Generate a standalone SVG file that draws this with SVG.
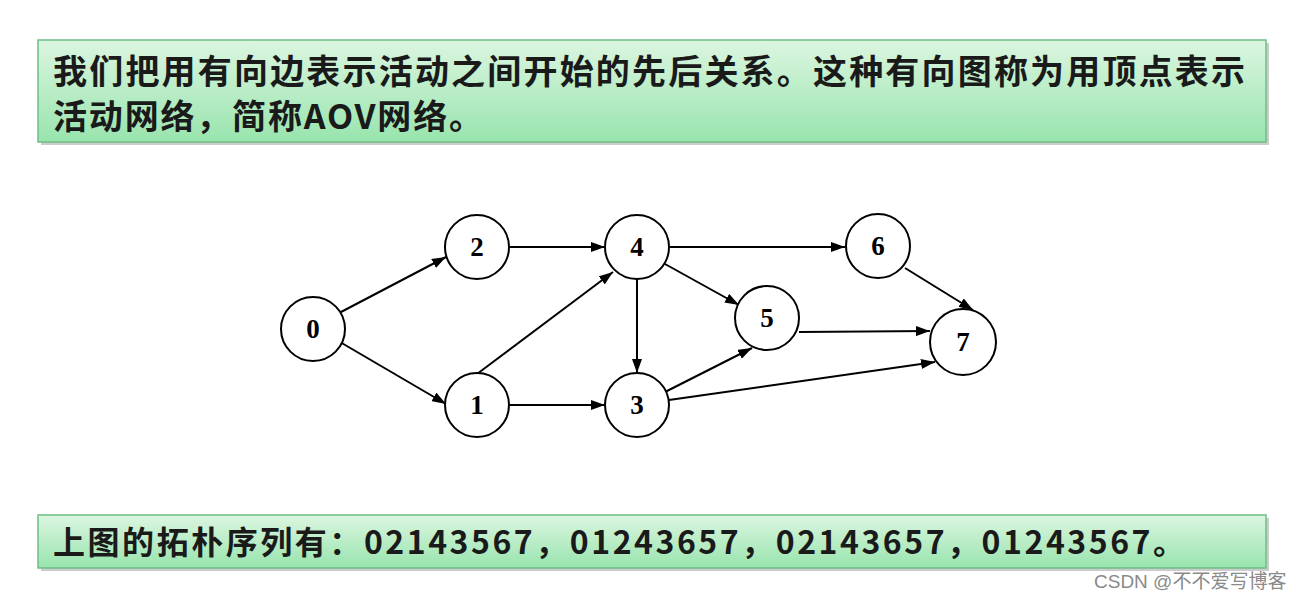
<svg xmlns="http://www.w3.org/2000/svg" width="1300" height="600" viewBox="0 0 1300 600">
<defs>
<linearGradient id="g" x1="0" y1="0" x2="0" y2="1">
<stop offset="0" stop-color="#dcf6e0"/>
<stop offset="1" stop-color="#98e4ae"/>
</linearGradient>
<marker id="a" viewBox="0 0 14 10" refX="14" refY="5" markerWidth="14" markerHeight="10" orient="auto" markerUnits="userSpaceOnUse">
<path d="M0,0 L14,5 L0,10 z" fill="#000"/>
</marker>
</defs>
<style>
.box{fill:url(#g);stroke:#6fbf86;stroke-width:1.5}
.shadow{fill:#9a9a9a;opacity:0.5}
.t{font-family:"Noto Sans CJK SC","Noto Sans",sans-serif;font-weight:bold;fill:#1a1a1a}
.n{fill:#fff;stroke:#000;stroke-width:2}
.nl{font-family:"Liberation Serif",serif;font-weight:bold;font-size:27px;text-anchor:middle;fill:#000}
.e{stroke:#000;stroke-width:2;fill:none;marker-end:url(#a)}
.wm{font-family:"Liberation Sans","Noto Sans CJK SC",sans-serif;font-size:19px;fill:#8a8a8a}
</style>
<rect width="1300" height="600" fill="#fff"/>
<g id="top-box">
<rect class="shadow" x="41" y="43" width="1228" height="102"/>
<rect class="box" x="38" y="40" width="1228" height="102"/>
<text class="t" x="53" y="84" font-size="34" textLength="1192" lengthAdjust="spacing">我们把用有向边表示活动之间开始的先后关系。这种有向图称为用顶点表示</text>
<text class="t" x="53" y="129" font-size="34" textLength="430" lengthAdjust="spacing">活动网络，简称AOV网络。</text>
</g>
<g id="connectors">
<line class="e" x1="341" y1="312" x2="446" y2="257"/>
<line class="e" x1="340" y1="342" x2="446" y2="404"/>
<line class="e" x1="508" y1="247" x2="605" y2="247"/>
<line class="e" x1="508" y1="405" x2="605" y2="405"/>
<line class="e" x1="477" y1="374" x2="613" y2="272"/>
<line class="e" x1="637" y1="279" x2="637" y2="373"/>
<line class="e" x1="668" y1="247" x2="845" y2="247"/>
<line class="e" x1="665" y1="264" x2="739" y2="305"/>
<line class="e" x1="665" y1="392" x2="752" y2="348"/>
<line class="e" x1="669" y1="400" x2="935" y2="362"/>
<line class="e" x1="799" y1="332" x2="930" y2="331"/>
<line class="e" x1="905" y1="268" x2="973" y2="310"/>
</g>
<g id="node-0"><circle class="n" cx="313" cy="329" r="32"/><text class="nl" x="313" y="338">0</text></g>
<g id="node-2"><circle class="n" cx="477" cy="247" r="32"/><text class="nl" x="477" y="256">2</text></g>
<g id="node-4"><circle class="n" cx="637" cy="247" r="32"/><text class="nl" x="637" y="256">4</text></g>
<g id="node-1"><circle class="n" cx="477" cy="405" r="32"/><text class="nl" x="477" y="414">1</text></g>
<g id="node-3"><circle class="n" cx="637" cy="405" r="32"/><text class="nl" x="637" y="414">3</text></g>
<g id="node-5"><circle class="n" cx="767" cy="318" r="32"/><text class="nl" x="767" y="327">5</text></g>
<g id="node-6"><circle class="n" cx="878" cy="246" r="32"/><text class="nl" x="878" y="255">6</text></g>
<g id="node-7"><circle class="n" cx="963" cy="342" r="33"/><text class="nl" x="963" y="351">7</text></g>
<g id="bottom-box">
<rect class="shadow" x="41" y="518" width="1228" height="53"/>
<rect class="box" x="38" y="515" width="1228" height="53"/>
<text class="t" x="53" y="554" font-size="32" textLength="1132" lengthAdjust="spacing">上图的拓朴序列有：02143567，01243657，02143657，01243567。</text>
</g>
<text class="wm" x="1094" y="588">CSDN @不不爱写博客</text>
</svg>
